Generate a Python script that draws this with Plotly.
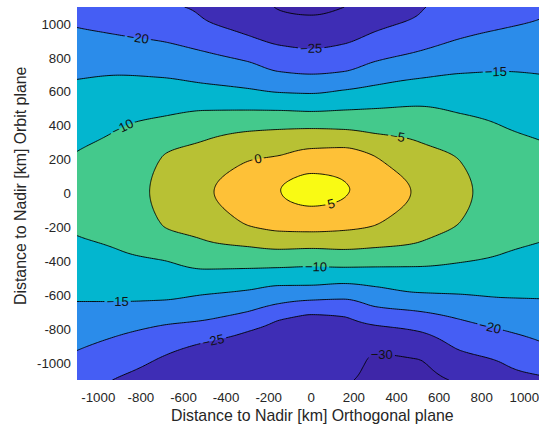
import numpy as np
import plotly.graph_objects as go

nan = np.nan

# Columns (km, orthogonal plane) at which contour crossings were read
col_x = [-1100, -900, -700, -500, -300, -150, 0, 150, 300, 500, 700, 900, 1100]

# Contour levels (dB)
levels = [-30, -25, -20, -15, -10, -5, 0, 5]

# Orbit-plane position (km) where each level crosses each column, north branch
up_n30 = [nan, nan, nan, nan, nan, 1081, 1052, 1097, nan, nan, nan, nan, nan]
up_n25 = [nan, nan, nan, 1027, 934, 875, 855, 881, 955, 1052, nan, nan, nan]
up_n20 = [979, 934, 897, 837, 779, 719, 704, 719, 779, 838, 914, 973, 1045]
up_n15 = [673, 698, 684, 649, 620, 596, 590, 610, 639, 678, 708, 720, 700]
up_n10 = [248, 383, 454, 490, 492, 490, 484, 492, 501, 515, 472, 395, 300]
up_n05 = [nan, nan, 218, 313, 366, 378, 383, 378, 354, 307, 189, nan, nan]
up_p00 = [nan, nan, nan, nan, 189, 224, 265, 271, 218, nan, nan, nan, nan]
up_p05 = [nan, nan, nan, nan, nan, nan, 118, 77, nan, nan, nan, nan, nan]

# South branch crossings
lo_p05 = [nan, nan, nan, nan, nan, nan, -75, -30, nan, nan, nan, nan, nan]
lo_p00 = [nan, nan, nan, nan, -187, -222, -226, -218, -187, nan, nan, nan, nan]
lo_n05 = [nan, nan, -187, -275, -313, -329, -324, -330, -319, -289, -166, nan, nan]
lo_n10 = [-248, -334, -393, -446, -442, -437, -431, -435, -433, -431, -407, -354, -275]
lo_n15 = [-637, -637, -629, -596, -570, -543, -541, -531, -549, -584, -594, -614, -622]
lo_n20 = [-926, -836, -777, -747, -697, -649, -629, -623, -667, -694, -743, -806, -885]
lo_n25 = [nan, -1080, -962, -879, -815, -747, -714, -726, -777, -812, -926, -1003, -1080]
lo_n30 = [nan, nan, nan, nan, nan, nan, nan, nan, -944, -977, nan, nan, nan]

# Peak value (dB) per column and its orbit-plane position
peak_val = [-8, -7, -4, -0.7, 2.5, 4.9, 7, 5.5, 2.5, -0.5, -4, -7, -8]
peak_y = [10, 10, 10, 10, 10, 20, 20, 23, 15, 10, 10, 10, 10]

# Values at the top (y = 1100) and bottom (y = -1100) edges
top_val = [-21.3, -22.3, -24.3, -25.7, -28.6, -30.2, -31, -30.05, -27.8, -25.4, -23.5, -21.8, -20.3]
bottom_val = [-23.5, -25.3, -27, -29.6, -29.6, -29.3, -29.5, -29.6, -31, -31, -29.4, -26, -25.2]


# ---- build the grid the contour trace needs from the read crossings ----
def pchip(xk, yk, xq):
    xk = np.asarray(xk, float)
    yk = np.asarray(yk, float)
    xq = np.asarray(xq, float)
    h = np.diff(xk)
    dl = np.diff(yk) / h
    d = np.zeros_like(yk)
    for k in range(1, len(xk) - 1):
        if dl[k - 1] * dl[k] > 0:
            w1 = 2 * h[k] + h[k - 1]
            w2 = h[k] + 2 * h[k - 1]
            d[k] = (w1 + w2) / (w1 / dl[k - 1] + w2 / dl[k])
    d[0] = dl[0]
    d[-1] = dl[-1]
    idx = np.clip(np.searchsorted(xk, xq) - 1, 0, len(xk) - 2)
    t = (xq - xk[idx]) / h[idx]
    h00 = 2 * t**3 - 3 * t**2 + 1
    h10 = t**3 - 2 * t**2 + t
    h01 = -2 * t**3 + 3 * t**2
    h11 = t**3 - t**2
    return (h00 * yk[idx] + h10 * h[idx] * d[idx]
            + h01 * yk[idx + 1] + h11 * h[idx] * d[idx + 1])


ups = [up_n30, up_n25, up_n20, up_n15, up_n10, up_n05, up_p00, up_p05]
los = [lo_n30, lo_n25, lo_n20, lo_n15, lo_n10, lo_n05, lo_p00, lo_p05]
y_grid = np.linspace(-1100, 1100, 221)
x_grid = np.linspace(-1100, 1100, 111)
zc = np.zeros((len(y_grid), len(col_x)))
for j in range(len(col_x)):
    pts = [(1100, top_val[j]), (-1100, bottom_val[j]), (peak_y[j], peak_val[j])]
    for lev, u, l in zip(levels, ups, los):
        if not np.isnan(u[j]):
            pts.append((u[j], lev))
        if not np.isnan(l[j]):
            pts.append((l[j], lev))
    pts.sort()
    zc[:, j] = pchip([p[0] for p in pts], [p[1] for p in pts], y_grid)
z = np.array([pchip(col_x, row, x_grid) for row in zc])

band_colors = ["#3E26A8", "#3E2DB5", "#455EF4", "#2B8CEA", "#03B6CF",
               "#44C98C", "#B8C134", "#FEC137", "#F9FA14"]
n = len(band_colors) - 1
colorscale = [[i / n, c] for i, c in enumerate(band_colors)]

fig = go.Figure(go.Contour(
    x=x_grid, y=y_grid, z=z,
    contours=dict(start=levels[0], end=levels[-1], size=5, coloring="fill",
                  showlabels=True,
                  labelfont=dict(family="Liberation Sans, Arial", size=13, color="#111111")),
    colorscale=colorscale, zmin=levels[0] - 2.5, zmax=levels[-1] + 2.5,
    line=dict(color="black", width=0.9, smoothing=1.3),
    showscale=False, hoverinfo="skip",
))

tick_vals = [-1000, -800, -600, -400, -200, 0, 200, 400, 600, 800, 1000]
tick_text = [str(v) for v in tick_vals]
font = dict(family="Liberation Sans, Arial", size=13.3, color="#262626")
title_font = dict(family="Liberation Sans, Arial", size=15.9, color="#262626")

fig.update_layout(
    width=539, height=429,
    margin=dict(l=77, r=0, t=7, b=49),
    paper_bgcolor="white", plot_bgcolor="white",
    showlegend=False,
    xaxis=dict(range=[-1100, 1069], tickvals=tick_vals, ticktext=tick_text,
               showgrid=False, zeroline=False, showline=False, ticks="",
               tickfont=font, ticklabelstandoff=8, ticklabeloverflow="allow"),
    yaxis=dict(range=[-1100, 1100], tickvals=tick_vals, ticktext=tick_text,
               showgrid=False, zeroline=False, showline=False, ticks="",
               tickfont=font, ticklabelstandoff=5),
    annotations=[
        dict(text="Distance to Nadir [km] Orthogonal plane", xref="paper", yref="paper",
             x=(312 - 77) / 462, y=-(415 - 380) / 373, xanchor="center", yanchor="middle",
             showarrow=False, font=title_font),
        dict(text="Distance to Nadir [km] Orbit plane", xref="paper", yref="paper",
             x=-(77 - 20) / 462, y=(380 - 186) / 373, xanchor="center", yanchor="middle",
             textangle=-90, showarrow=False, font=title_font),
    ],
)

fig.write_html("out.html")
